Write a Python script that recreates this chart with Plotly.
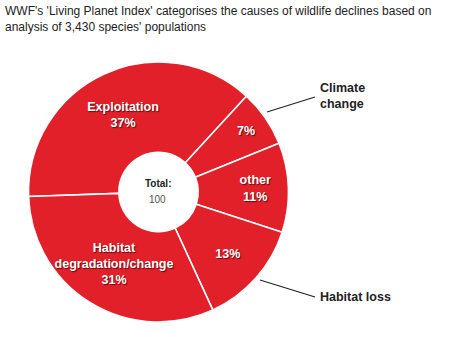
import plotly.graph_objects as go

W, H = 455, 337

# ---- data ----
categories = ["Exploitation", "Climate change", "other", "Habitat loss", "Habitat degradation/change"]
values = [37, 7, 11, 13, 31]
inside_names = ["Exploitation", "", "other", "", "Habitat<br>degradation/change"]
total_label = "Total:"
total_value = "100"
title_text = ("WWF's 'Living Planet Index' categorises the causes of wildlife declines based on<br>"
              "analysis of 3,430 species' populations")

RED = "#e2202a"
FONT = "Liberation Sans, Arial, sans-serif"

slice_text = [f"{n}<br>{v}%" if n else f"{v}%" for n, v in zip(inside_names, values)]

def px(x):
    return x / W

def py(y):
    return 1 - y / H

cx, cy, r = 158.5, 192, 130

fig = go.Figure(go.Pie(
    labels=categories,
    values=values,
    text=slice_text,
    textinfo="text",
    textposition="inside",
    insidetextorientation="horizontal",
    sort=False,
    direction="clockwise",
    rotation=268,
    hole=0.305,
    marker=dict(colors=[RED] * len(values), line=dict(color="white", width=1.6)),
    textfont=dict(family=FONT, size=12.5, color="white", weight="bold",
                  shadow="1px 1px 1px rgba(0,0,0,0.6)"),
    domain=dict(x=[px(cx - r), px(cx + r)], y=[py(cy + r), py(cy - r)]),
    showlegend=False,
    hoverinfo="label+value",
))

annotations = [
    dict(text=title_text, x=px(3), y=py(2), xref="paper", yref="paper",
         xanchor="left", yanchor="top", align="left", showarrow=False,
         font=dict(family=FONT, size=12, color="#222")),
    dict(text=total_label, x=px(157.5), y=py(183), xref="paper", yref="paper",
         xanchor="center", yanchor="middle", showarrow=False,
         font=dict(family=FONT, size=10, color="#222", weight="bold")),
    dict(text=total_value, x=px(157.5), y=py(199), xref="paper", yref="paper",
         xanchor="center", yanchor="middle", showarrow=False,
         font=dict(family=FONT, size=10, color="#555")),
    dict(text="Climate<br>change", x=px(318), y=py(96.5), xref="paper", yref="paper",
         xanchor="left", yanchor="middle", align="left", showarrow=False,
         font=dict(family=FONT, size=12.5, color="#222", weight="bold")),
    dict(text="Habitat loss", x=px(318), y=py(297), xref="paper", yref="paper",
         xanchor="left", yanchor="middle", align="left", showarrow=False,
         font=dict(family=FONT, size=12.5, color="#222", weight="bold")),
]

shapes = [
    dict(type="line", xref="paper", yref="paper", x0=px(267), y0=py(112), x1=px(315), y1=py(97),
         line=dict(color="#222", width=1.2)),
    dict(type="line", xref="paper", yref="paper", x0=px(260), y0=py(280), x1=px(315), y1=py(297),
         line=dict(color="#222", width=1.2)),
]

fig.update_layout(
    width=W, height=H,
    margin=dict(l=0, r=0, t=0, b=0),
    paper_bgcolor="white", plot_bgcolor="white",
    annotations=annotations,
    shapes=shapes,
    uniformtext=dict(minsize=12.5, mode="show"),
)

fig.write_html("out.html")
